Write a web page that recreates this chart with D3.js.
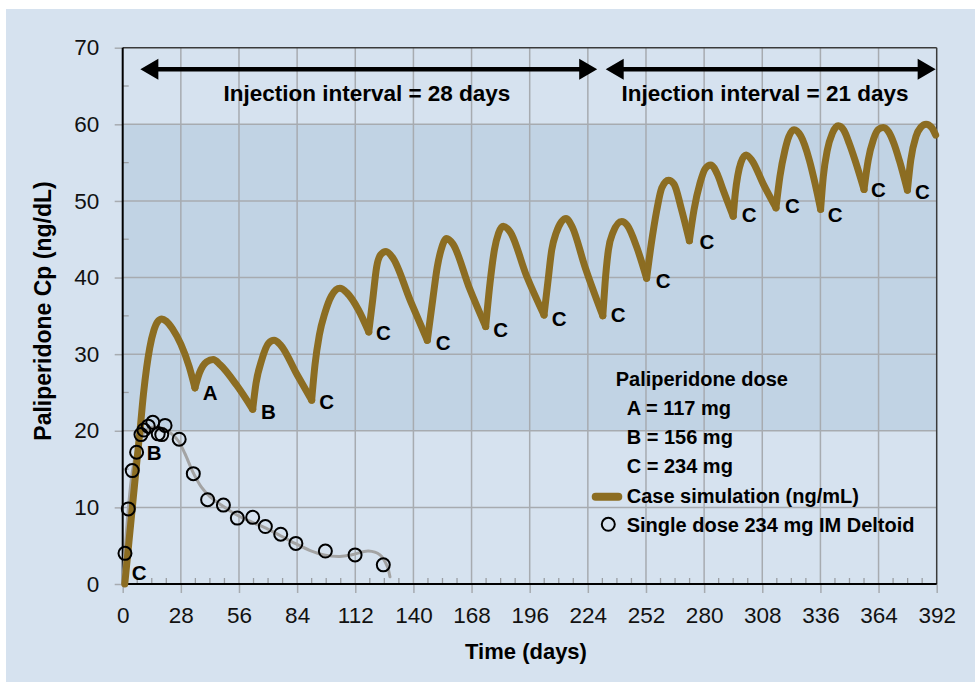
<!DOCTYPE html>
<html>
<head>
<meta charset="utf-8">
<script src="https://cdn.jsdelivr.net/npm/d3@7"></script>
<style>
  html, body { margin: 0; padding: 0; background: #ffffff; }
  svg { display: block; font-family: "Liberation Sans", Arial, Helvetica, sans-serif; }
</style>
</head>
<body>
<svg id="chart" width="975" height="682"></svg>
<script>
// ---------------- DATA ----------------
const xTicks = [0, 28, 56, 84, 112, 140, 168, 196, 224, 252, 280, 308, 336, 364, 392];
const yTicks = [0, 10, 20, 30, 40, 50, 60, 70];

// Case simulation (ng/mL): [day, Cp]
const simCurve = [
  [1, 0], [3, 5.5], [5, 11], [7, 16.5], [8.5, 20.5], [10, 24.8], [11.5, 28.2], [13, 30.8], [15, 33.1], [17, 34.3], [18.8, 34.6],
  [21, 34.3], [24, 33.3], [28, 31.3], [32, 28.4], [34.8, 25.6],
  [36.9, 27.5], [40.4, 29.0], [43.6, 29.3], [47, 28.6], [55, 25.9], [62.6, 22.8],
  [64.2, 26.2], [66.9, 29.2], [70.2, 31.4], [72.9, 31.8], [76, 31.2], [84, 27.3], [91, 24.0],
  [92.6, 28.6], [94.7, 32.5], [97.4, 35.4], [100.5, 37.6], [104.6, 38.6], [108, 38.0], [113.5, 35.8], [118.5, 32.9],
  [120.4, 37.1], [122.3, 41.4], [124.3, 43.0], [126.8, 43.4], [130, 42.6], [138.5, 37.0], [146.7, 31.8],
  [149.3, 37.1], [151.5, 41.4], [153.3, 43.6], [156, 45.1], [159, 44.4], [167, 38.6], [174.8, 33.6],
  [176.9, 39.3], [179, 43.6], [181, 45.8], [183.3, 46.7], [186.5, 46.0], [194.5, 40.2], [202.9, 35.1],
  [204.7, 39.3], [206.6, 43.6], [208.7, 45.8], [213.5, 47.7], [216.5, 46.6], [222.5, 41.5], [231.2, 35.0],
  [232.3, 39.3], [233.9, 43.6], [236, 45.8], [240.3, 47.3], [243, 46.8], [247.5, 44.0], [252.3, 39.9],
  [254.5, 44.3], [257.2, 48.8], [259.6, 51.7], [262.8, 52.7], [265.5, 52.2], [269, 49.0], [272.9, 44.8],
  [275.1, 48.8], [278, 52.3], [280.5, 54.2], [283.2, 54.7], [286.5, 53.4], [289.2, 51.4], [294, 48.0],
  [295, 51.0], [296.2, 53.3], [297.7, 55.0], [300.2, 56.0], [303, 55.3], [308.5, 52.2], [314.6, 49.1],
  [316.5, 53.2], [318.9, 56.6], [320.8, 58.4], [323.3, 59.3], [326.5, 58.5], [330.7, 55.3], [333.4, 52.3], [336.1, 48.9],
  [337.4, 53.2], [339.3, 56.6], [341.7, 58.8], [344.6, 59.8], [347.3, 59.2], [349.9, 57.5], [352.7, 55.3], [357, 51.5],
  [359, 55.3], [361.5, 58.0], [363.8, 59.3], [366.3, 59.6], [368.9, 59.0], [371.4, 57.5], [374, 55.3], [377.9, 51.4],
  [379.5, 55.3], [382, 58.4], [384.3, 59.6], [386.9, 60.0], [389.5, 59.6], [391.5, 58.6]
];
// days of the dose-driven troughs (curve is split there)
const troughDays = [34.8, 62.6, 91, 118.5, 146.7, 174.8, 202.9, 231.2, 252.3, 272.9, 294, 314.6, 336.1, 357, 377.9];

// Single dose 234 mg IM deltoid: observed points [day, Cp]
const singleDose = [
  [1.1, 4.0], [2.7, 9.8], [4.6, 14.8], [6.7, 17.2], [8.8, 19.5], [10.2, 20.1], [12.3, 20.6], [14.5, 21.1],
  [17.1, 19.6], [18.8, 19.5], [20.4, 20.7], [27.2, 18.9], [34.0, 14.4], [40.9, 11.0], [48.5, 10.3],
  [55.2, 8.6], [62.6, 8.7], [68.7, 7.5], [76.1, 6.5], [83.4, 5.3], [97.6, 4.3], [111.9, 3.8], [125.5, 2.5]
];
// Smoothed fit through single dose points
const singleFit = [
  [0, 0], [1.1, 4.2], [2.7, 9.8], [4.6, 14.6], [6.7, 17.4], [9, 19.3], [12, 20.2], [15, 20.5], [18, 20.4],
  [21, 20.1], [24, 19.5], [27, 18.6], [30, 17.0], [34, 14.5], [38, 12.6], [42, 11.4], [48, 10.2], [55, 9.0],
  [62, 8.1], [69, 7.3], [76, 6.3], [83, 5.3], [90, 4.4], [97, 3.8], [104.6, 3.6], [111, 3.85], [118.3, 4.3],
  [123.9, 3.8], [127.4, 2.3], [128.7, 0.95]
];

// Dose letter annotations (text left / baseline in data units)
const labelText = ["C", "B", "A", "B", "C", "C", "C", "C", "C", "C", "C", "C", "C", "C", "C", "C", "C"];
const labelDay  = [4.3, 11.6, 38.5, 66.6, 94.7, 122.0, 150.8, 178.5, 206.6, 235.0, 256.7, 277.8, 298.1, 318.9, 339.5, 360.4, 381.5];
const labelVal  = [0.5, 16.2, 24.0, 21.6, 22.8, 31.9, 30.5, 32.3, 33.7, 34.2, 38.7, 43.7, 47.2, 48.4, 47.2, 50.5, 50.3];

// Injection interval arrows
const arrowStart = [8.5, 232.6];
const arrowEnd   = [228.5, 391.5];
const arrowLevel = 67.2;
const intervalText = ["Injection interval = 28 days", "Injection interval = 21 days"];
const intervalTextDay = [117.6, 309.3];
const intervalTextVal = 63.0;

const bandRange = [20, 60];

const legendTitle = "Paliperidone dose";
const legendDoses = ["A = 117 mg", "B = 156 mg", "C = 234 mg"];
const legendSeries = ["Case simulation (ng/mL)", "Single dose 234 mg IM Deltoid"];

// ---------------- DRAW ----------------
const W = 975, H = 682;
const L = 122.7, R = 936.7, T = 47.7, B = 584;
const gold = "#8c6d22";
const svg = d3.select("#chart");

svg.append("rect").attr("x", 6).attr("y", 9).attr("width", W - 6).attr("height", H - 9).attr("fill", "#d6e2ef");

const x = d3.scaleLinear().domain([0, 392]).range([L, R]);
const y = d3.scaleLinear().domain([0, 70]).range([B, T]);

// shaded therapeutic band
svg.append("rect")
  .attr("x", x(0)).attr("width", x(392) - x(0))
  .attr("y", y(bandRange[1])).attr("height", y(bandRange[0]) - y(bandRange[1]))
  .attr("fill", "#c1d3e4");

// grid
const gridColor = "#a7abb0";
svg.append("g").selectAll("line").data(xTicks.filter(d => d > 0 && d < 392)).join("line")
  .attr("x1", d => x(d)).attr("x2", d => x(d)).attr("y1", y(70)).attr("y2", y(0))
  .attr("stroke", gridColor).attr("stroke-width", 1.5);
svg.append("g").selectAll("line").data(yTicks.filter(d => d > 0 && d < 70)).join("line")
  .attr("x1", x(0)).attr("x2", x(392)).attr("y1", d => y(d)).attr("y2", d => y(d))
  .attr("stroke", gridColor).attr("stroke-width", 1.5);

// minor ticks
const minorX = d3.range(7, 392, 7).filter(d => d % 28 !== 0);
svg.append("g").selectAll("line").data(minorX).join("line")
  .attr("x1", d => x(d)).attr("x2", d => x(d)).attr("y1", y(0)).attr("y2", y(0) - 6)
  .attr("stroke", "#9a9ea3").attr("stroke-width", 1.3);
const minorY = d3.range(5, 70, 10);
svg.append("g").selectAll("line").data(minorY).join("line")
  .attr("x1", x(0)).attr("x2", x(0) + 6).attr("y1", d => y(d)).attr("y2", d => y(d))
  .attr("stroke", "#9a9ea3").attr("stroke-width", 1.3);

// axes
const xAxis = svg.append("g").attr("transform", `translate(0,${B})`)
  .call(d3.axisBottom(x).tickValues(xTicks).tickSize(9).tickPadding(14).tickFormat(d3.format("d")));
const yAxis = svg.append("g").attr("transform", `translate(${L},0)`)
  .call(d3.axisLeft(y).tickValues(yTicks).tickSize(8).tickPadding(15.5).tickFormat(d3.format("d")));
[xAxis, yAxis].forEach(a => {
  a.attr("font-size", null).attr("font-family", null);
  a.select(".domain").remove();
  a.selectAll(".tick line").attr("stroke", gridColor).attr("stroke-width", 1.5);
  a.selectAll(".tick text").attr("fill", "#111").attr("font-size", 22.5);
});

// frame
svg.append("line").attr("x1", x(0)).attr("x2", x(392)).attr("y1", y(70)).attr("y2", y(70)).attr("stroke", "#3a3a3a").attr("stroke-width", 1.5);
svg.append("line").attr("x1", x(392)).attr("x2", x(392)).attr("y1", y(70)).attr("y2", y(0)).attr("stroke", "#3a3a3a").attr("stroke-width", 1.5);
svg.append("line").attr("x1", x(0)).attr("x2", x(0)).attr("y1", y(70)).attr("y2", y(0)).attr("stroke", "#000").attr("stroke-width", 2);
svg.append("line").attr("x1", x(0)).attr("x2", x(392)).attr("y1", y(0)).attr("y2", y(0)).attr("stroke", "#000").attr("stroke-width", 2);

// single-dose fit line
const lineGen = d3.line().x(d => x(d[0])).y(d => y(d[1]));
svg.append("path").datum(singleFit)
  .attr("d", lineGen.curve(d3.curveCatmullRom.alpha(0.5)))
  .attr("fill", "none").attr("stroke", "#a3a3a3").attr("stroke-width", 3).attr("stroke-linecap", "round");

// case simulation curve, split at dose troughs so troughs stay sharp
const segments = [];
let cur = [];
simCurve.forEach(p => {
  cur.push(p);
  if (troughDays.includes(p[0])) { segments.push(cur); cur = [p]; }
});
if (cur.length > 1) segments.push(cur);
const simLine = d3.line().x(d => x(d[0])).y(d => y(d[1])).curve(d3.curveMonotoneX);
svg.append("g").selectAll("path").data(segments).join("path")
  .attr("d", d => simLine(d))
  .attr("fill", "none").attr("stroke", gold).attr("stroke-width", 7)
  .attr("stroke-linecap", "round").attr("stroke-linejoin", "round");

// single-dose circles
svg.append("g").selectAll("circle").data(singleDose).join("circle")
  .attr("cx", d => x(d[0])).attr("cy", d => y(d[1])).attr("r", 6.5)
  .attr("fill", "none").attr("stroke", "#000").attr("stroke-width", 2);

// dose letters
svg.append("g").selectAll("text").data(labelText).join("text")
  .attr("x", (d, i) => x(labelDay[i])).attr("y", (d, i) => y(labelVal[i]))
  .attr("font-size", 20.5).attr("font-weight", "bold").attr("fill", "#000")
  .text(d => d);

// arrows
const ay = y(arrowLevel), headL = 18, headH = 10.5;
arrowStart.forEach((s, i) => {
  const x0 = x(s), x1 = x(arrowEnd[i]);
  svg.append("line").attr("x1", x0 + headL - 2).attr("x2", x1 - headL + 2).attr("y1", ay).attr("y2", ay)
    .attr("stroke", "#000").attr("stroke-width", 4.5);
  const p = d3.path();
  p.moveTo(x0, ay); p.lineTo(x0 + headL, ay - headH); p.lineTo(x0 + headL, ay + headH); p.closePath();
  p.moveTo(x1, ay); p.lineTo(x1 - headL, ay - headH); p.lineTo(x1 - headL, ay + headH); p.closePath();
  svg.append("path").attr("d", p.toString()).attr("fill", "#000");
});
svg.append("g").selectAll("text").data(intervalText).join("text")
  .attr("x", (d, i) => x(intervalTextDay[i])).attr("y", y(intervalTextVal))
  .attr("text-anchor", "middle").attr("font-size", 22.5).attr("font-weight", "bold").attr("fill", "#000")
  .text(d => d);

// axis titles
svg.append("text").attr("x", 526).attr("y", 658.5).attr("text-anchor", "middle")
  .attr("font-size", 22).attr("font-weight", "bold").attr("fill", "#000").text("Time (days)");
svg.append("text").attr("transform", "translate(50.5,311) rotate(-90)").attr("text-anchor", "middle")
  .attr("font-size", 23).attr("font-weight", "bold").attr("fill", "#000").text("Paliperidone Cp (ng/dL)");

// legend
const lg = svg.append("g").attr("font-weight", "bold").attr("font-size", 20).attr("fill", "#000");
lg.append("text").attr("x", 615.7).attr("y", 385.7).text(legendTitle);
lg.selectAll("text.dose").data(legendDoses).join("text").attr("class", "dose")
  .attr("x", 626.7).attr("y", (d, i) => 415 + i * 29.2).text(d => d);
lg.selectAll("text.ser").data(legendSeries).join("text").attr("class", "ser")
  .attr("x", 626.7).attr("y", (d, i) => 502.7 + i * 29).text(d => d);
svg.append("line").attr("x1", 595.7).attr("x2", 618.3).attr("y1", 496.7).attr("y2", 496.7)
  .attr("stroke", gold).attr("stroke-width", 8).attr("stroke-linecap", "round");
svg.append("circle").attr("cx", 608.3).attr("cy", 524.3).attr("r", 6.5)
  .attr("fill", "none").attr("stroke", "#000").attr("stroke-width", 2);
</script>
</body>
</html>
